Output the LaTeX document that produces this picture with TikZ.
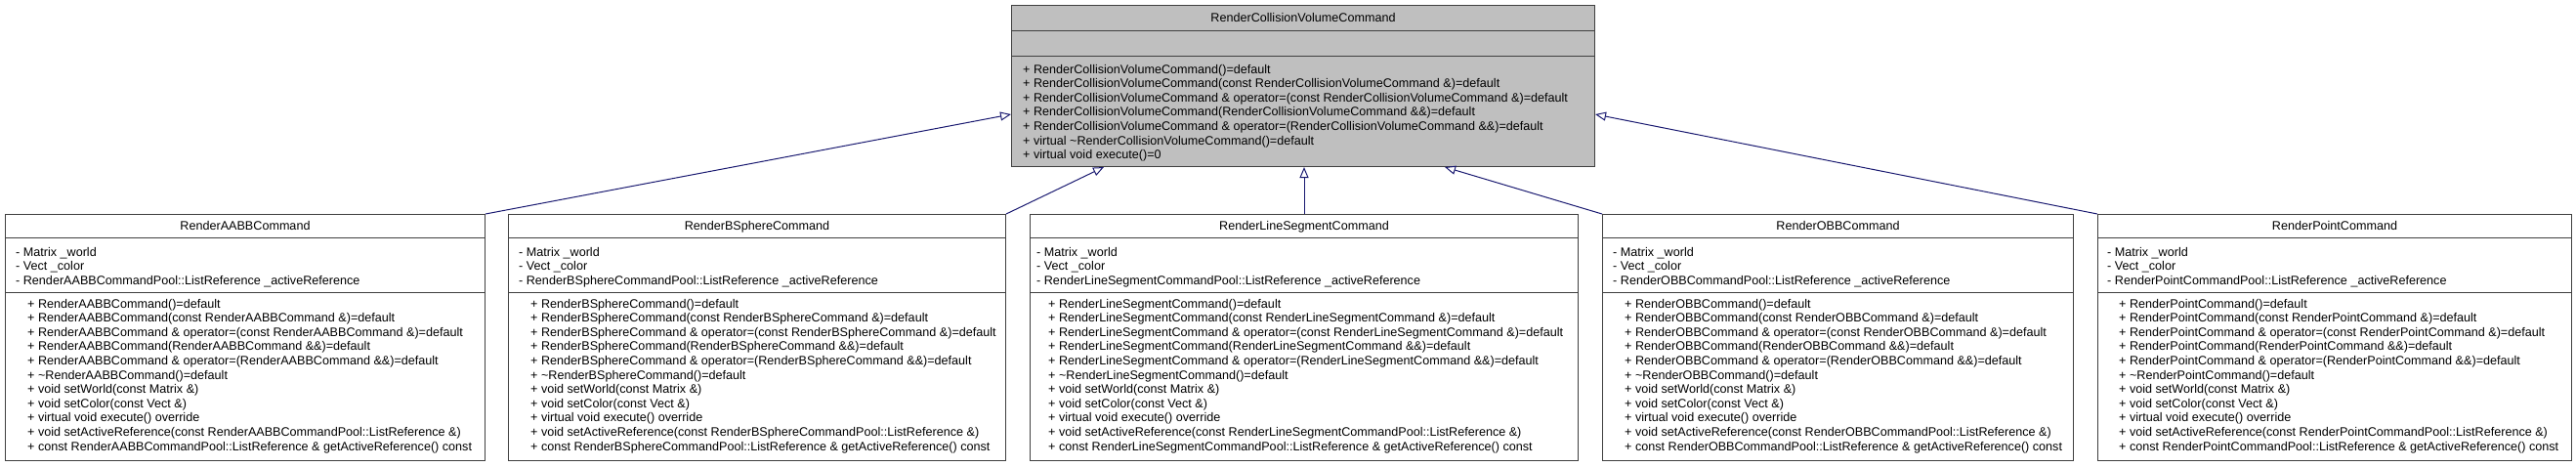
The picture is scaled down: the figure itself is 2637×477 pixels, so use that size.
\documentclass[tikz,border=0pt]{standalone}
\usepackage{fontspec}
\setmainfont{Liberation Sans}
\usetikzlibrary{arrows.meta, positioning}
\definecolor{edgeblue}{HTML}{191970}
\definecolor{boxline}{HTML}{404040}
\newcommand{\umlfont}{\fontsize{12.6}{14.6}\selectfont}
\begin{document}
\begin{tikzpicture}[x=1pt, y=-1pt,
  classbox/.style={draw=boxline, line width=1pt, anchor=north west, inner sep=0pt, fill=white},
  basebox/.style={classbox, fill=black!25},
  divider/.style={draw=boxline, line width=1pt},
  classname/.style={anchor=base, inner sep=0pt, font=\umlfont},
  members/.style={anchor=north west, align=left, inner sep=0pt, font=\umlfont},
  inherit/.style={draw=edgeblue, line width=1pt, -{Triangle[open, length=11pt, width=9pt]}}]
  \useasboundingbox (0,0) rectangle (2637,477);

  % Base class
  \node[basebox, minimum width=597pt, minimum height=165pt] (base) at (1035,5) {};
  \draw[divider] ([yshift=-26pt]base.north west) -- ([yshift=-26pt]base.north east);
  \draw[divider] ([yshift=-52pt]base.north west) -- ([yshift=-52pt]base.north east);
  \node[classname] (basename) at ([yshift=-17pt]base.north) {RenderCollisionVolumeCommand};
  \node[members] (baseops) at ([xshift=12pt, yshift=-60.8pt]base.north west) {%
    + RenderCollisionVolumeCommand()=default\\
    + RenderCollisionVolumeCommand(const RenderCollisionVolumeCommand \&)=default\\
    + RenderCollisionVolumeCommand \& operator=(const RenderCollisionVolumeCommand \&)=default\\
    + RenderCollisionVolumeCommand(RenderCollisionVolumeCommand \&\&)=default\\
    + RenderCollisionVolumeCommand \& operator=(RenderCollisionVolumeCommand \&\&)=default\\
    + virtual \textasciitilde RenderCollisionVolumeCommand()=default\\
    + virtual void execute()=0};

  % RenderAABBCommand
  \node[classbox, minimum width=491pt, minimum height=252pt] (aabb) at (5,219) {};
  \draw[divider] ([yshift=-24pt]aabb.north west) -- ([yshift=-24pt]aabb.north east);
  \draw[divider] ([yshift=-80pt]aabb.north west) -- ([yshift=-80pt]aabb.north east);
  \node[classname] (aabbname) at ([yshift=-16.7pt]aabb.north) {RenderAABBCommand};
  \node[members] (aabbattr) at ([xshift=11pt, yshift=-33.8pt]aabb.north west) {%
    - Matrix \_world\\
    - Vect \_color\\
    - RenderAABBCommandPool::ListReference \_activeReference};
  \node[members] (aabbops) at ([xshift=23pt, yshift=-86.8pt]aabb.north west) {%
    + RenderAABBCommand()=default\\
    + RenderAABBCommand(const RenderAABBCommand \&)=default\\
    + RenderAABBCommand \& operator=(const RenderAABBCommand \&)=default\\
    + RenderAABBCommand(RenderAABBCommand \&\&)=default\\
    + RenderAABBCommand \& operator=(RenderAABBCommand \&\&)=default\\
    + \textasciitilde RenderAABBCommand()=default\\
    + void setWorld(const Matrix \&)\\
    + void setColor(const Vect \&)\\
    + virtual void execute() override\\
    + void setActiveReference(const RenderAABBCommandPool::ListReference \&)\\
    + const RenderAABBCommandPool::ListReference \& getActiveReference() const};

  % RenderBSphereCommand
  \node[classbox, minimum width=509pt, minimum height=252pt] (bsphere) at (520,219) {};
  \draw[divider] ([yshift=-24pt]bsphere.north west) -- ([yshift=-24pt]bsphere.north east);
  \draw[divider] ([yshift=-80pt]bsphere.north west) -- ([yshift=-80pt]bsphere.north east);
  \node[classname] (bspherename) at ([yshift=-16.7pt]bsphere.north) {RenderBSphereCommand};
  \node[members] (bsphereattr) at ([xshift=11pt, yshift=-33.8pt]bsphere.north west) {%
    - Matrix \_world\\
    - Vect \_color\\
    - RenderBSphereCommandPool::ListReference \_activeReference};
  \node[members] (bsphereops) at ([xshift=23pt, yshift=-86.8pt]bsphere.north west) {%
    + RenderBSphereCommand()=default\\
    + RenderBSphereCommand(const RenderBSphereCommand \&)=default\\
    + RenderBSphereCommand \& operator=(const RenderBSphereCommand \&)=default\\
    + RenderBSphereCommand(RenderBSphereCommand \&\&)=default\\
    + RenderBSphereCommand \& operator=(RenderBSphereCommand \&\&)=default\\
    + \textasciitilde RenderBSphereCommand()=default\\
    + void setWorld(const Matrix \&)\\
    + void setColor(const Vect \&)\\
    + virtual void execute() override\\
    + void setActiveReference(const RenderBSphereCommandPool::ListReference \&)\\
    + const RenderBSphereCommandPool::ListReference \& getActiveReference() const};

  % RenderLineSegmentCommand
  \node[classbox, minimum width=561pt, minimum height=252pt] (lineseg) at (1054,219) {};
  \draw[divider] ([yshift=-24pt]lineseg.north west) -- ([yshift=-24pt]lineseg.north east);
  \draw[divider] ([yshift=-80pt]lineseg.north west) -- ([yshift=-80pt]lineseg.north east);
  \node[classname] (linesegname) at ([yshift=-16.7pt]lineseg.north) {RenderLineSegmentCommand};
  \node[members] (linesegattr) at ([xshift=7pt, yshift=-33.8pt]lineseg.north west) {%
    - Matrix \_world\\
    - Vect \_color\\
    - RenderLineSegmentCommandPool::ListReference \_activeReference};
  \node[members] (linesegops) at ([xshift=19pt, yshift=-86.8pt]lineseg.north west) {%
    + RenderLineSegmentCommand()=default\\
    + RenderLineSegmentCommand(const RenderLineSegmentCommand \&)=default\\
    + RenderLineSegmentCommand \& operator=(const RenderLineSegmentCommand \&)=default\\
    + RenderLineSegmentCommand(RenderLineSegmentCommand \&\&)=default\\
    + RenderLineSegmentCommand \& operator=(RenderLineSegmentCommand \&\&)=default\\
    + \textasciitilde RenderLineSegmentCommand()=default\\
    + void setWorld(const Matrix \&)\\
    + void setColor(const Vect \&)\\
    + virtual void execute() override\\
    + void setActiveReference(const RenderLineSegmentCommandPool::ListReference \&)\\
    + const RenderLineSegmentCommandPool::ListReference \& getActiveReference() const};

  % RenderOBBCommand
  \node[classbox, minimum width=482pt, minimum height=252pt] (obb) at (1640,219) {};
  \draw[divider] ([yshift=-24pt]obb.north west) -- ([yshift=-24pt]obb.north east);
  \draw[divider] ([yshift=-80pt]obb.north west) -- ([yshift=-80pt]obb.north east);
  \node[classname] (obbname) at ([yshift=-16.7pt]obb.north) {RenderOBBCommand};
  \node[members] (obbattr) at ([xshift=11pt, yshift=-33.8pt]obb.north west) {%
    - Matrix \_world\\
    - Vect \_color\\
    - RenderOBBCommandPool::ListReference \_activeReference};
  \node[members] (obbops) at ([xshift=23pt, yshift=-86.8pt]obb.north west) {%
    + RenderOBBCommand()=default\\
    + RenderOBBCommand(const RenderOBBCommand \&)=default\\
    + RenderOBBCommand \& operator=(const RenderOBBCommand \&)=default\\
    + RenderOBBCommand(RenderOBBCommand \&\&)=default\\
    + RenderOBBCommand \& operator=(RenderOBBCommand \&\&)=default\\
    + \textasciitilde RenderOBBCommand()=default\\
    + void setWorld(const Matrix \&)\\
    + void setColor(const Vect \&)\\
    + virtual void execute() override\\
    + void setActiveReference(const RenderOBBCommandPool::ListReference \&)\\
    + const RenderOBBCommandPool::ListReference \& getActiveReference() const};

  % RenderPointCommand
  \node[classbox, minimum width=485pt, minimum height=252pt] (point) at (2147,219) {};
  \draw[divider] ([yshift=-24pt]point.north west) -- ([yshift=-24pt]point.north east);
  \draw[divider] ([yshift=-80pt]point.north west) -- ([yshift=-80pt]point.north east);
  \node[classname] (pointname) at ([yshift=-16.7pt]point.north) {RenderPointCommand};
  \node[members] (pointattr) at ([xshift=10pt, yshift=-33.8pt]point.north west) {%
    - Matrix \_world\\
    - Vect \_color\\
    - RenderPointCommandPool::ListReference \_activeReference};
  \node[members] (pointops) at ([xshift=22pt, yshift=-86.8pt]point.north west) {%
    + RenderPointCommand()=default\\
    + RenderPointCommand(const RenderPointCommand \&)=default\\
    + RenderPointCommand \& operator=(const RenderPointCommand \&)=default\\
    + RenderPointCommand(RenderPointCommand \&\&)=default\\
    + RenderPointCommand \& operator=(RenderPointCommand \&\&)=default\\
    + \textasciitilde RenderPointCommand()=default\\
    + void setWorld(const Matrix \&)\\
    + void setColor(const Vect \&)\\
    + virtual void execute() override\\
    + void setActiveReference(const RenderPointCommandPool::ListReference \&)\\
    + const RenderPointCommandPool::ListReference \& getActiveReference() const};

  % Inheritance arrows
  \coordinate (baseleft) at ([yshift=-29pt]base.west);
  \coordinate (baseright) at ([yshift=-29pt]base.east);
  \draw[inherit] (aabb.north east) -- (baseleft);
  \draw[inherit] (bsphere.north east) -- ([xshift=95pt]base.south west);
  \draw[inherit] (lineseg.north) -- (lineseg.north |- base.south);
  \draw[inherit] (obb.north west) -- ([xshift=-154pt]base.south east);
  \draw[inherit] (point.north west) -- (baseright);
\end{tikzpicture}
\end{document}
